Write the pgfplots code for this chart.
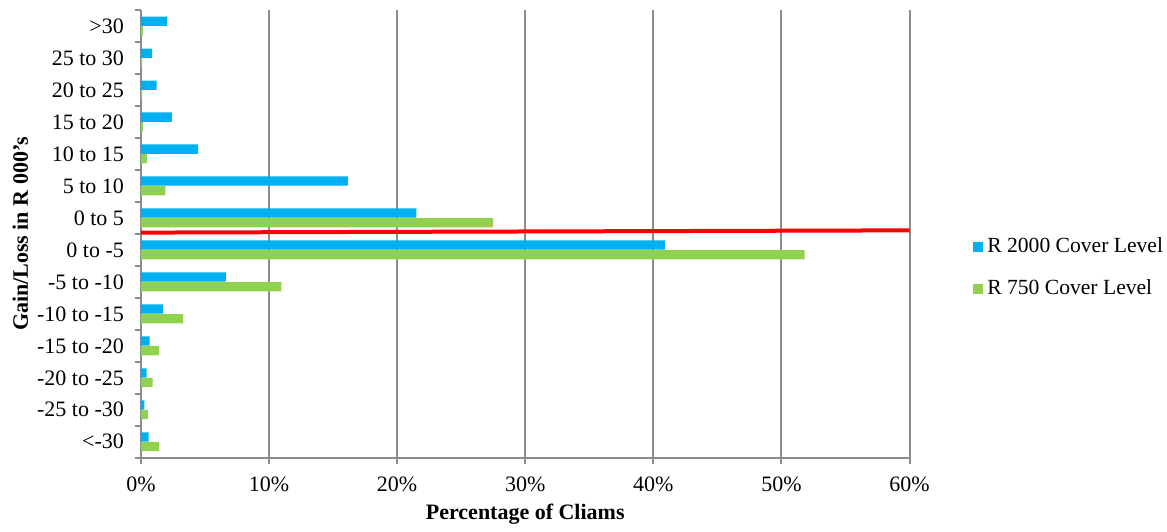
\documentclass[border=0pt]{standalone}
\usepackage{fontspec}
\setmainfont{Liberation Serif}
\usepackage{pgfplots}
\pgfplotsset{compat=1.18}
\definecolor{cblue}{HTML}{00B0F0}
\definecolor{cgreen}{HTML}{92D050}
\definecolor{axgray}{HTML}{8C8C8C}
\begin{document}
\begin{tikzpicture}
\begin{axis}[
  scale only axis,
  width=384.5pt, height=224pt,
  xmin=0, xmax=60, ymin=-0.5, ymax=13.5,
  axis x line*=bottom, axis y line*=left,
  axis line style={axgray, line width=1pt, -},
  xtick={0,10,20,30,40,50,60},
  xticklabels={0\%,10\%,20\%,30\%,40\%,50\%,60\%},
  xmajorgrids, major grid style={axgray, line width=1pt},
  ytick={0,...,13},
  yticklabels={<-30,-25 to -30,-20 to -25,-15 to -20,-10 to -15,-5 to -10,0 to -5,0 to 5,5 to 10,10 to 15,15 to 20,20 to 25,25 to 30,>30},
  minor ytick={-0.5,0.5,...,13.5},
  major y tick style={draw=none},
  minor y tick style={axgray, line width=1pt},
  major x tick style={axgray, line width=1pt},
  tick align=outside,
  major tick length=3pt, minor tick length=3pt,
  tick label style={font=\fontsize{11}{13}\selectfont, text=black},
  xticklabel style={yshift=-3pt},
  yticklabel style={xshift=-2pt},
  xlabel={\textbf{Percentage of Cliams}},
  ylabel={\textbf{Gain/Loss in R 000's}},
  label style={font=\fontsize{11}{13}\selectfont},
  x label style={at={(axis description cs:0.5,-0.127)}, anchor=center},
  y label style={at={(axis description cs:-0.157,0.5)}, anchor=center, rotate=0},
  xbar, bar width=0.29,
  legend style={draw=none, at={(1.083,0.424)}, anchor=west, inner sep=0pt, outer sep=0pt, font=\fontsize{10.8}{13}\selectfont, row sep=8pt},
  legend cell align=left,
  legend image code/.code={\fill[#1] (0pt,-2.5pt) rectangle (5pt,2.5pt);},
]
\addplot[draw=none, fill=cblue, bar shift=0.15] coordinates {
(0.60,0) (0.26,1) (0.44,2) (0.68,3) (1.74,4) (6.64,5) (40.9,6) (21.5,7) (16.16,8) (4.46,9) (2.41,10) (1.22,11) (0.88,12) (2.05,13)};
\addlegendentry{R 2000 Cover Level}
\addplot[draw=none, fill=cgreen, bar shift=-0.15] coordinates {
(1.43,0) (0.55,1) (0.91,2) (1.40,3) (3.30,4) (10.97,5) (51.8,6) (27.5,7) (1.90,8) (0.47,9) (0.18,10) (0.10,11) (0.10,12) (0.15,13)};
\addlegendentry{R 750 Cover Level}
\addplot[xbar=0pt, draw=red, line width=2pt, forget plot, sharp plot, no marks] coordinates {(0,6.54) (60,6.61)};
\end{axis}
\path (-70.5pt,-33pt) rectangle (513pt,229pt);
\end{tikzpicture}
\end{document}
